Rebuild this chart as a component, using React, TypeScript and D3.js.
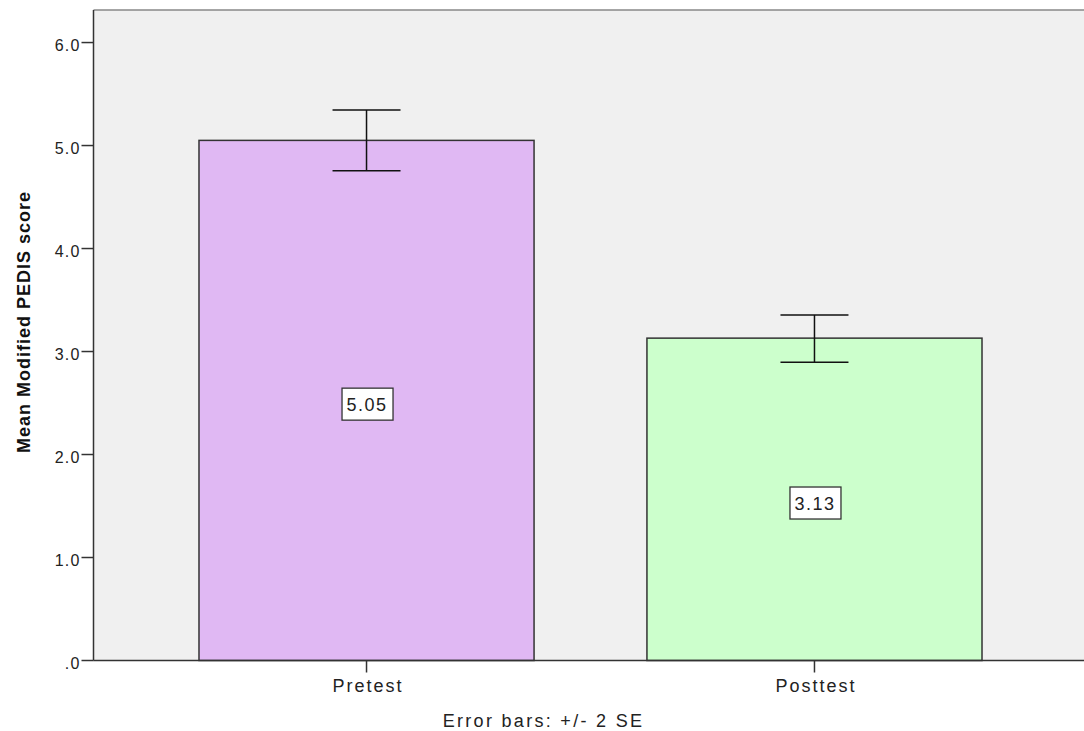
import React from "react";
import * as d3 from "d3";

const categories = ["Pretest", "Posttest"];
const means = [5.05, 3.13];
const errLow = [4.755, 2.895];
const errHigh = [5.345, 3.355];
const barColors = ["#E0B8F3", "#CCFFCC"];
const yTicks = [0, 1, 2, 3, 4, 5, 6];

const W = 1084;
const H = 731;
const plotLeft = 93.5;
const plotRight = 1087.5;
const plotTop = 10;
const plotBottom = 660.5;

export default function App() {
  const y = d3.scaleLinear().domain([0, 6.316]).range([plotBottom, plotTop]);
  const x = d3
    .scaleBand<string>()
    .domain(categories)
    .range([plotLeft, plotRight])
    .paddingInner(0.252)
    .paddingOuter(0.2355);
  const bw = x.bandwidth();
  const font = "'Liberation Sans', Arial, sans-serif";
  const fmt = (v: number) => (v === 0 ? ".0" : d3.format(".1f")(v));

  return (
    <svg
      width={W}
      height={H}
      style={{ position: "absolute", left: 0, top: 0, display: "block" }}
      fontFamily={font}
    >
      <rect x={0} y={0} width={W} height={H} fill="#ffffff" />
      <rect
        x={plotLeft}
        y={plotTop}
        width={plotRight - plotLeft}
        height={plotBottom - plotTop}
        fill="#F0F0F0"
      />
      <line x1={plotLeft} x2={plotRight} y1={plotTop} y2={plotTop} stroke="#888" strokeWidth={1.5} />

      {categories.map((c, i) => {
        const x0 = x(c)!;
        const cx = x0 + bw / 2;
        const top = y(means[i]);
        const boxMid = (top + plotBottom) / 2 + 3.7;
        const label = d3.format(".2f")(means[i]);
        return (
          <g key={c}>
            <rect
              x={x0}
              y={top}
              width={bw}
              height={plotBottom - top}
              fill={barColors[i]}
              stroke="#333"
              strokeWidth={1.5}
            />
            <line x1={cx} x2={cx} y1={y(errHigh[i])} y2={y(errLow[i])} stroke="#111" strokeWidth={1.5} />
            <line x1={cx - 34} x2={cx + 34} y1={y(errHigh[i])} y2={y(errHigh[i])} stroke="#111" strokeWidth={1.5} />
            <line x1={cx - 34} x2={cx + 34} y1={y(errLow[i])} y2={y(errLow[i])} stroke="#111" strokeWidth={1.5} />
            <rect x={cx - 24.5} y={boxMid - 16} width={51} height={32} fill="#fff" stroke="#333" strokeWidth={1.3} />
            <text
              x={cx + 0.5}
              y={boxMid + 6.7}
              textAnchor="middle"
              fontSize={18}
              letterSpacing={1.5}
              fill="#222"
            >
              {label}
            </text>
            <line x1={cx} x2={cx} y1={plotBottom} y2={plotBottom + 12} stroke="#333" strokeWidth={1.5} />
            <text
              x={cx + 1.5}
              y={692.3}
              textAnchor="middle"
              fontSize={18}
              letterSpacing={2}
              fill="#222"
            >
              {c}
            </text>
          </g>
        );
      })}

      {yTicks.map((t) => (
        <g key={t}>
          <line x1={plotLeft - 12} x2={plotLeft} y1={y(t)} y2={y(t)} stroke="#333" strokeWidth={1.5} />
          <text
            x={plotLeft - 13}
            y={y(t) + 8.8}
            textAnchor="end"
            fontSize={16}
            letterSpacing={1.2}
            fill="#222"
          >
            {fmt(t)}
          </text>
        </g>
      ))}

      <line x1={plotLeft} x2={plotLeft} y1={plotTop} y2={plotBottom} stroke="#333" strokeWidth={1.5} />
      <line x1={plotLeft} x2={plotRight} y1={plotBottom} y2={plotBottom} stroke="#333" strokeWidth={1.5} />

      <text
        transform={`translate(30, 322) rotate(-90)`}
        textAnchor="middle"
        fontSize={18}
        fontWeight="bold"
        letterSpacing={1}
        fill="#111"
      >
        Mean Modified PEDIS score
      </text>
      <text
        x={543.5}
        y={727.3}
        textAnchor="middle"
        fontSize={18}
        letterSpacing={2.3}
        fill="#222"
      >
        Error bars: +/- 2 SE
      </text>
    </svg>
  );
}
